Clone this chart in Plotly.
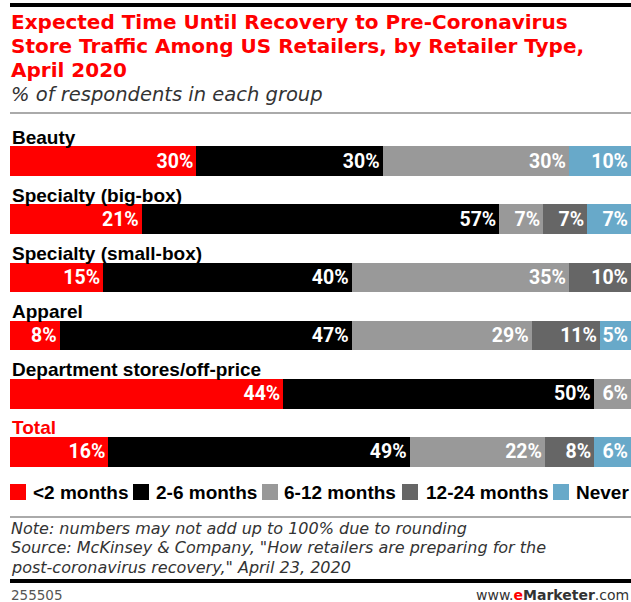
import plotly.graph_objects as go

categories = ["Beauty", "Specialty (big-box)", "Specialty (small-box)", "Apparel",
              "Department stores/off-price", "Total"]
series_names = ["<2 months", "2-6 months", "6-12 months", "12-24 months", "Never"]
lt2 = [30, 21, 15, 8, 44, 16]
m2_6 = [30, 57, 40, 47, 50, 49]
m6_12 = [30, 7, 35, 29, 6, 22]
m12_24 = [None, 7, 10, 11, None, 8]
never = [10, 7, None, 5, None, 6]
series_values = [lt2, m2_6, m6_12, m12_24, never]
colors = ["#ff0000", "#000000", "#999999", "#666666", "#68a9c9"]

title_lines = ["Expected Time Until Recovery to Pre-Coronavirus",
               "Store Traffic Among US Retailers, by Retailer Type,",
               "April 2020"]
subtitle = "% of respondents in each group"
note_lines = ["Note: numbers may not add up to 100% due to rounding",
              "Source: McKinsey & Company, \"How retailers are preparing for the",
              "post-coronavirus recovery,\" April 23, 2020"]

W, H = 631, 602
PL, PR = 10, 631
PT, PB = 132, 481


def yp(px):
    return (PB - px) / (PB - PT)


def xp(px):
    return (px - PL) / (PR - PL)


WIDE = "DejaVu Sans, Verdana, sans-serif"
ARIAL = "Liberation Sans, Arial, sans-serif"
VALUE = "Roboto, Liberation Sans, sans-serif"


def esc(s):
    return s.replace("&", "&amp;").replace("<", "&lt;").replace(">", "&gt;")


fig = go.Figure()
for name, vals, col in zip(series_names, series_values, colors):
    fig.add_trace(go.Bar(
        y=categories, x=vals, name=name, orientation="h",
        marker=dict(color=col, line=dict(width=0)),
        text=[f"<b>{v}%</b>" if v else "" for v in vals],
        texttemplate="%{text}",
        textposition="inside", insidetextanchor="end", textangle=0,
        constraintext="none",
        textfont=dict(family=VALUE, size=19.5, color="white"),
        width=0.508, showlegend=False, hoverinfo="skip",
    ))

annotations = []
shapes = []
# category labels
for c in categories:
    annotations.append(dict(
        x=0, xref="paper", y=c, yref="y", yshift=24, xanchor="left", yanchor="middle",
        text=f"<b>{esc(c)}</b>", showarrow=False,
        font=dict(family=ARIAL, size=19, color="#ff0000" if c == "Total" else "#000000"),
    ))

# title block
for line, cy in zip(title_lines, [22, 46, 70]):
    annotations.append(dict(
        x=xp(9), xref="paper", y=yp(cy), yref="paper", xanchor="left", yanchor="middle",
        showarrow=False, text=f"<b>{esc(line)}</b>",
        font=dict(family=WIDE, size=20, color="#ff0000"),
    ))
annotations.append(dict(
    x=xp(9), xref="paper", y=yp(94), yref="paper", xanchor="left", yanchor="middle",
    showarrow=False, text=f"<i>{esc(subtitle)}</i>",
    font=dict(family=WIDE, size=19.5, color="#333333"),
))

# legend
sq_x = [10, 133, 262, 402, 553]
tx_x = [32, 155, 283, 425, 575]
for name, col, sx, tx in zip(series_names, colors, sq_x, tx_x):
    shapes.append(dict(type="rect", xref="paper", yref="paper",
                       x0=xp(sx), x1=xp(sx + 16), y0=yp(500), y1=yp(484),
                       fillcolor=col, line=dict(width=0)))
    annotations.append(dict(
        x=xp(tx - 1), xref="paper", y=yp(492), yref="paper", xanchor="left", yanchor="middle",
        showarrow=False, text=f"<b>{esc(name)}</b>",
        font=dict(family=ARIAL, size=19, color="#000000"),
    ))

# note/source
for line, cy in zip(note_lines, [528, 547.5, 567]):
    annotations.append(dict(
        x=xp(9), xref="paper", y=yp(cy), yref="paper", xanchor="left", yanchor="middle",
        showarrow=False, text=f"<i>{esc(line)}</i>",
        font=dict(family=WIDE, size=16, color="#333333"),
    ))
annotations.append(dict(
    x=xp(9), xref="paper", y=yp(595), yref="paper", xanchor="left", yanchor="middle",
    showarrow=False, text="255505", font=dict(family=WIDE, size=13.5, color="#555555"),
))
annotations.append(dict(
    x=xp(631), xref="paper", y=yp(595), yref="paper", xanchor="right", yanchor="middle",
    showarrow=False,
    text="www.<span style='color:#ff0000'><b>e</b></span><b>Marketer</b>.com",
    font=dict(family=WIDE, size=14, color="#333333"),
))

# rules
shapes += [
    dict(type="line", xref="paper", yref="paper", x0=xp(10), x1=xp(631), y0=yp(5), y1=yp(5),
         line=dict(color="#000000", width=4)),
    dict(type="line", xref="paper", yref="paper", x0=xp(10), x1=xp(631), y0=yp(113), y1=yp(113),
         line=dict(color="#aaaaaa", width=2)),
    dict(type="line", xref="paper", yref="paper", x0=xp(10), x1=xp(631), y0=yp(517), y1=yp(517),
         line=dict(color="#aaaaaa", width=2)),
    dict(type="line", xref="paper", yref="paper", x0=xp(10), x1=xp(631), y0=yp(581), y1=yp(581),
         line=dict(color="#000000", width=4)),
]

fig.update_layout(
    width=W, height=H, barmode="stack", barnorm="percent",
    margin=dict(l=PL, r=W - PR, t=PT, b=H - PB, pad=0),
    plot_bgcolor="white", paper_bgcolor="white",
    xaxis=dict(range=[0, 100], visible=False, fixedrange=True),
    yaxis=dict(categoryorder="array", categoryarray=categories,
               range=[5.5, -0.5], autorange=False, visible=False),
    annotations=annotations, shapes=shapes,
)

fig.write_html("out.html")
